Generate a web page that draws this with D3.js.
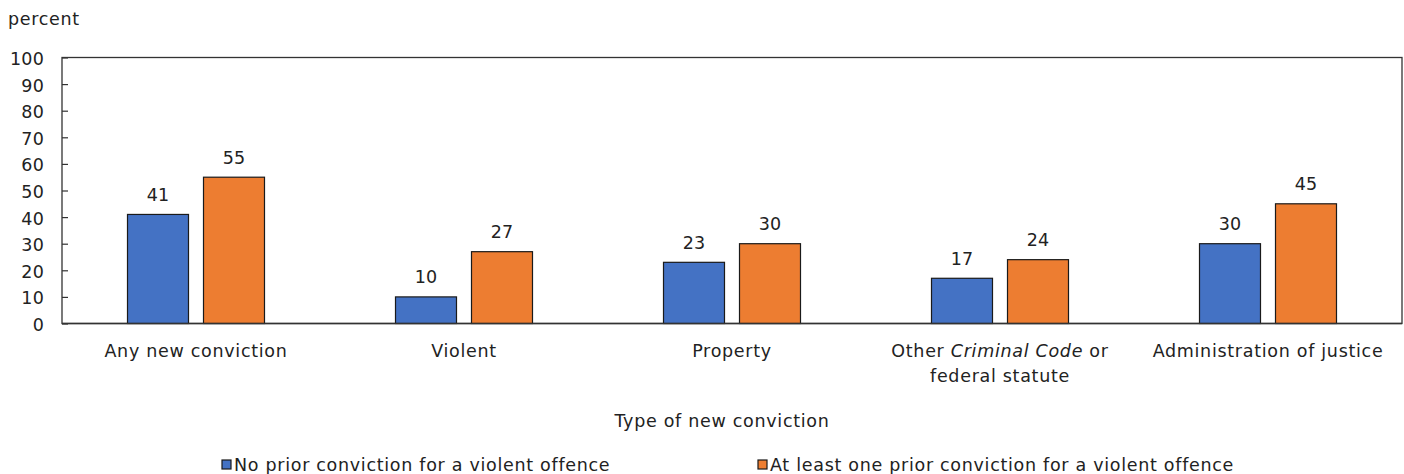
<!DOCTYPE html>
<html>
<head>
<meta charset="utf-8">
<script src="https://cdn.jsdelivr.net/npm/d3@7"></script>
<style>
  html, body { margin: 0; padding: 0; background: #fff; }
  svg { display: block; font-family: "DejaVu Sans", Verdana, sans-serif; }
  text { fill: #222; }
  .lbl { font-size: 17.5px; letter-spacing: 0.7px; }
  .num { font-size: 17.5px; letter-spacing: 0.2px; }
</style>
</head>
<body>
<svg id="chart" width="1404" height="474"></svg>
<script>
// Share of offenders with a new conviction, by type of new conviction
const categories = [
  ["Any new conviction"],
  ["Violent"],
  ["Property"],
  [["Other "], ["Criminal Code", true], [" or"], "federal statute"],
  ["Administration of justice"]
];
const seriesNames = [
  "No prior conviction for a violent offence",
  "At least one prior conviction for a violent offence"
];
const noPrior = [41, 10, 23, 17, 30];
const atLeastOnePrior = [55, 27, 30, 24, 45];
const yTicks = [0, 10, 20, 30, 40, 50, 60, 70, 80, 90, 100];
const colors = ["#4472C4", "#ED7D31"];

const svg = d3.select("#chart");
const plot = { left: 62, right: 1402, top: 57.5, bottom: 323.5 };

const x0 = d3.scaleBand()
  .domain(d3.range(categories.length))
  .range([plot.left, plot.right])
  .paddingInner(0).paddingOuter(0);

const groupWidth = 137;
const x1 = d3.scaleBand()
  .domain([0, 1])
  .range([0, groupWidth])
  .paddingInner(15 / 76);

const y = d3.scaleLinear().domain([0, 100]).range([plot.bottom, plot.top]);

// axis title
svg.append("text")
  .attr("class", "lbl")
  .attr("x", 8).attr("y", 25)
  .text("percent");

// y axis tick labels and inward ticks
const yAxis = d3.axisLeft(y).tickValues(yTicks).tickSize(-6).tickPadding(18);
const yg = svg.append("g").attr("transform", `translate(${plot.left},0)`).call(yAxis);
yg.select(".domain").remove();
yg.selectAll(".tick line").attr("stroke", "#333").attr("stroke-width", 1.2);
yg.selectAll(".tick text").attr("class", "num").attr("font-size", null).attr("fill", "#222")
  .attr("font-family", "DejaVu Sans, Verdana, sans-serif").attr("dy", "0.4em");

// plot frame
svg.append("rect")
  .attr("x", plot.left).attr("y", plot.top)
  .attr("width", plot.right - plot.left).attr("height", plot.bottom - plot.top)
  .attr("fill", "none").attr("stroke", "#333").attr("stroke-width", 1.3);

const data = categories.map((c, i) => [noPrior[i], atLeastOnePrior[i]]);

const groups = svg.append("g").selectAll("g")
  .data(data).join("g")
  .attr("transform", (d, i) => `translate(${x0(i) + x0.bandwidth() / 2 - groupWidth / 2},0)`);

groups.selectAll("rect")
  .data(d => d).join("rect")
  .attr("x", (d, j) => x1(j))
  .attr("y", d => y(d))
  .attr("width", x1.bandwidth())
  .attr("height", d => y(0) - y(d))
  .attr("fill", (d, j) => colors[j])
  .attr("stroke", "#1a1a1a").attr("stroke-width", 1.2);

groups.selectAll("text.val")
  .data(d => d).join("text")
  .attr("class", "val num")
  .attr("x", (d, j) => x1(j) + x1.bandwidth() / 2)
  .attr("y", d => y(d) - 13.5)
  .attr("text-anchor", "middle")
  .text(d => d);

// redraw bottom baseline over bar strokes
svg.append("line")
  .attr("x1", plot.left).attr("x2", plot.right)
  .attr("y1", plot.bottom).attr("y2", plot.bottom)
  .attr("stroke", "#333").attr("stroke-width", 1.3);

// category labels
categories.forEach((c, i) => {
  const cx = x0(i) + x0.bandwidth() / 2;
  if (Array.isArray(c[0])) {
    const t = svg.append("text")
      .attr("class", "lbl")
      .attr("x", cx).attr("y", 357)
      .attr("text-anchor", "middle");
    c.filter(p => Array.isArray(p)).forEach(p => {
      t.append("tspan").attr("font-style", p[1] ? "italic" : "normal").text(p[0]);
    });
    c.filter(p => !Array.isArray(p)).forEach((line, k) => {
      svg.append("text")
        .attr("class", "lbl")
        .attr("x", cx).attr("y", 382 + k * 25)
        .attr("text-anchor", "middle")
        .text(line);
    });
  } else {
    svg.append("text")
      .attr("class", "lbl")
      .attr("x", cx).attr("y", 357)
      .attr("text-anchor", "middle")
      .text(c[0]);
  }
});

// x axis title
svg.append("text")
  .attr("class", "lbl")
  .attr("x", 722).attr("y", 426.5)
  .attr("text-anchor", "middle")
  .text("Type of new conviction");

// legend
const legendX = [222, 758];
seriesNames.forEach((name, j) => {
  svg.append("rect")
    .attr("x", legendX[j]).attr("y", 460)
    .attr("width", 9).attr("height", 9)
    .attr("fill", colors[j]).attr("stroke", "#1a1a1a").attr("stroke-width", 1.2);
  svg.append("text")
    .attr("class", "lbl")
    .attr("x", legendX[j] + 12).attr("y", 470.5)
    .text(name);
});
</script>
</body>
</html>
